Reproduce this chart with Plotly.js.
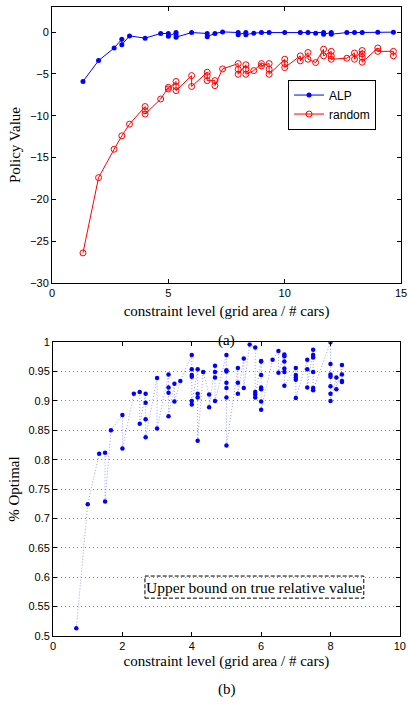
<!DOCTYPE html>
<html>
<head>
<meta charset="utf-8">
<script src="https://cdn.plot.ly/plotly-3.0.1.min.js"></script>
<style>html,body{margin:0;padding:0;background:#fff;}#chart{width:408px;height:704px;}</style>
</head>
<body>
<div id="chart"></div>
<script>
// ---- Panel (a): policy value vs constraint level ----
var alpX = [1.33,2,2.67,3,3,3.33,4,4.67,5,5,5.33,5.33,5.33,6,6.67,6.67,7,7.33,8,8,8.33,8.33,8.67,9,9.33,10,10.67,11,11.33,11.67,11.67,12,12,12.67,13,13.33,14,14.67];
var alpY = [-5.9,-3.4,-1.9,-0.85,-1.5,-0.45,-0.72,-0.16,-0.16,-0.5,-0.05,-0.3,-0.6,-0.05,-0.16,-0.55,-0.16,0.03,-0.05,-0.3,-0.05,-0.3,-0.12,-0.05,-0.05,-0.05,-0.05,-0.05,-0.12,-0.05,-0.25,-0.05,-0.25,-0.05,-0.05,-0.05,0,0];

var rndX = [1.33,2,2.67,3,3.33,4,4,4,4.67,5,5,5.33,5.33,5.33,6,6,6.67,6.67,6.67,7,7,7.33,8,8,8,8.33,8.33,8.33,8.67,9,9,9.33,9.33,9.33,10,10,10,10.67,10.67,11,11,11.33,11.67,11.67,12,12,12,12.67,13,13,13.33,13.33,13.33,13.33,14,14,14.67,14.67];
var rndY = [-26.4,-17.4,-14.0,-12.4,-11.0,-8.9,-9.4,-9.8,-8.0,-6.6,-6.8,-5.9,-6.5,-7.0,-5.2,-6.5,-4.8,-5.2,-5.8,-5.8,-6.4,-4.4,-3.76,-4.44,-5.04,-3.9,-4.44,-5.04,-4.6,-3.76,-4.04,-3.76,-4.44,-5.04,-3.24,-3.76,-4.24,-2.84,-3.44,-2.44,-3.24,-3.64,-2.04,-2.84,-2.3,-2.84,-3.24,-3.12,-2.5,-3.24,-2.2,-2.6,-3.0,-3.6,-1.9,-2.3,-2.3,-2.84];

// ---- Panel (b): % optimal vs constraint level ----
var optX = [0.67,1.0,1.33,1.5,1.5,1.67,2,2,2.33,2.5,2.5,2.67,2.67,2.67,2.67,3,3,3.33,3.33,3.33,3.33,3.5,3.5,3.67,
  4,4,4,4,4,4,4.17,4.17,4.17,4.17,4.33,4.5,4.5,4.67,4.67,4.67,4.67,5,5,5,5,5,5,5,5.33,5.33,5.33,5.5,5.5,5.67,
  5.83,5.83,5.83,5.83,6,6,6,6,6,6,6,6.33,6.5,6.5,6.67,6.67,6.67,6.67,6.67,6.67,7,7,7,7,7,7.33,7.33,7.33,
  7.5,7.5,7.5,7.5,7.5,7.5,8,8,8,8,8,8,8,8.17,8.17,8.33,8.33,8.33,8.33];
var optY = [0.513,0.724,0.810,0.812,0.729,0.850,0.876,0.819,0.912,0.915,0.861,0.912,0.897,0.869,0.838,0.939,0.853,0.945,0.923,0.914,0.874,0.929,0.899,0.934,
  0.978,0.954,0.944,0.941,0.900,0.894,0.954,0.912,0.906,0.832,0.949,0.911,0.889,0.960,0.949,0.940,0.900,0.978,0.952,0.950,0.931,0.922,0.906,0.824,0.956,0.931,0.912,0.972,0.922,0.996,
  0.991,0.915,0.911,0.906,0.968,0.967,0.944,0.923,0.920,0.899,0.885,0.970,0.985,0.948,0.979,0.976,0.967,0.955,0.949,0.926,0.956,0.944,0.940,0.936,0.905,0.970,0.954,0.923,
  0.987,0.978,0.974,0.949,0.922,0.918,1.0,0.963,0.945,0.941,0.925,0.912,0.900,0.940,0.920,0.961,0.945,0.934,0.932];

var serif = 'Liberation Serif, Times New Roman, serif';
var sans = 'Liberation Sans, Arial, sans-serif';

var traces = [
  {x: alpX, y: alpY, name: 'ALP', type: 'scatter', mode: 'lines+markers', xaxis: 'x', yaxis: 'y',
   line: {color: '#0000ff', width: 1}, marker: {color: '#0000ff', size: 5, symbol: 'circle'}},
  {x: rndX, y: rndY, name: 'random', type: 'scatter', mode: 'lines+markers', xaxis: 'x', yaxis: 'y',
   line: {color: '#ff0000', width: 1}, marker: {color: '#ff0000', size: 6, symbol: 'circle-open', line: {width: 1}}},
  {x: optX, y: optY, name: '% optimal', type: 'scatter', mode: 'lines+markers', xaxis: 'x2', yaxis: 'y2', showlegend: false,
   line: {color: '#9a9aff', width: 1, dash: '1px,2px'}, marker: {color: '#0000ff', size: 4.5, symbol: 'circle'}}
];

var axBase = {
  showline: true, linecolor: '#000', linewidth: 1, mirror: 'ticks', ticks: 'inside', ticklen: 4,
  tickcolor: '#000', tickfont: {family: sans, size: 11, color: '#000'}, zeroline: false, showgrid: false
};

function ax(extra) { return Object.assign({}, axBase, extra); }
var titleFont = {family: serif, size: 15, color: '#000'};

var layout = {
  width: 408, height: 704,
  margin: {l: 0, r: 0, t: 0, b: 0},
  paper_bgcolor: '#fff', plot_bgcolor: '#fff',
  showlegend: true,
  legend: {x: 0.706, y: 0.887, xanchor: 'left', yanchor: 'top', bordercolor: '#000', borderwidth: 1,
           bgcolor: '#fff', font: {family: sans, size: 12, color: '#000'}, itemwidth: 30},
  xaxis: ax({domain: [0.1275, 0.983], anchor: 'y', range: [0, 15], tickvals: [0, 5, 10, 15],
             title: {text: 'constraint level (grid area / # cars)', font: titleFont, standoff: 7}}),
  yaxis: ax({domain: [0.598, 0.990], anchor: 'x', range: [-30, 3], tickvals: [-30, -25, -20, -15, -10, -5, 0],
             title: {text: 'Policy Value', font: titleFont, standoff: 5}}),
  xaxis2: ax({domain: [0.130, 0.980], anchor: 'y2', range: [0, 10], tickvals: [0, 2, 4, 6, 8, 10],
              title: {text: 'constraint level (grid area / # cars)', font: titleFont, standoff: 4}}),
  yaxis2: ax({domain: [0.0966, 0.514], anchor: 'x2', range: [0.5, 1], dtick: 0.05, tick0: 0.5,
              showgrid: true, gridcolor: '#888', griddash: '1px,3px', gridwidth: 1,
              title: {text: '% Optimal', font: titleFont, standoff: 5}}),
  shapes: [
    {type: 'rect', xref: 'x2', yref: 'y2', x0: 2.65, x1: 8.96, y0: 0.5644, y1: 0.602,
     line: {color: '#000', width: 1, dash: '4px,2px'}, fillcolor: 'rgba(0,0,0,0)'}
  ],
  annotations: [
    {xref: 'x2', yref: 'y2', x: 5.8, y: 0.583, yanchor: 'middle', text: 'Upper bound on true relative value', showarrow: false,
     font: {family: serif, size: 15.5, color: '#000'}},
    {xref: 'paper', yref: 'paper', x: 0.556, y: 0.516, yanchor: 'middle', text: '(a)', showarrow: false,
     font: titleFont},
    {xref: 'paper', yref: 'paper', x: 0.556, y: 0.0213, yanchor: 'middle', text: '(b)', showarrow: false,
     font: titleFont}
  ]
};

Plotly.newPlot('chart', traces, layout, {displayModeBar: false, staticPlot: true});
</script>
</body>
</html>
